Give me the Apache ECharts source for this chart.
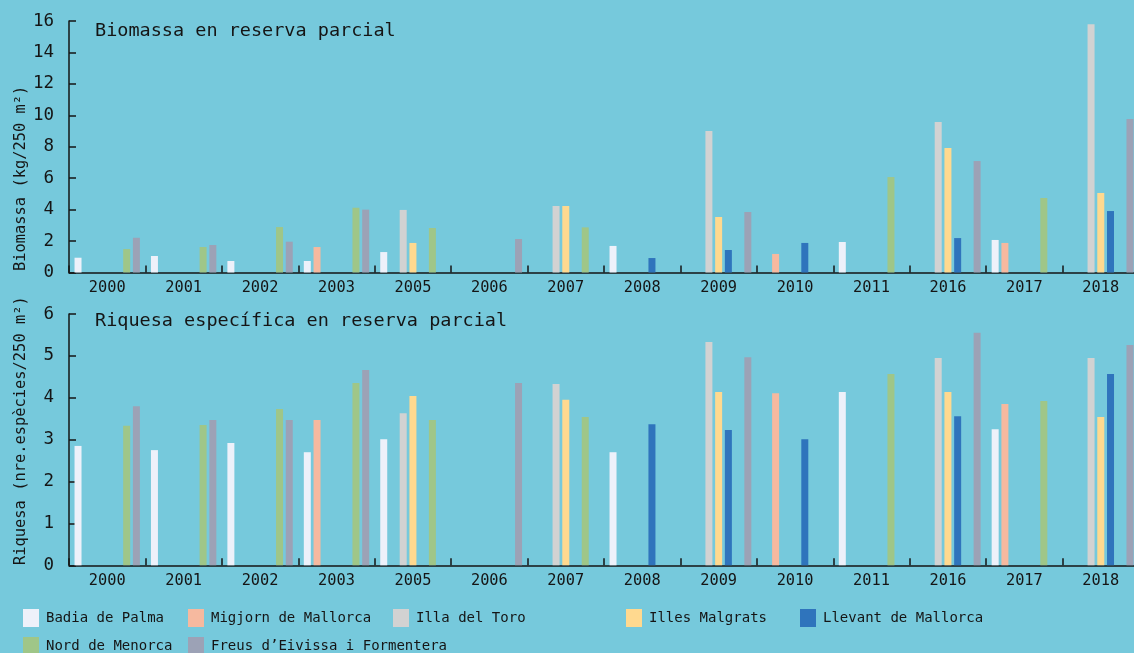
<!DOCTYPE html>
<html>
<head>
<meta charset="utf-8">
<script src="https://cdn.jsdelivr.net/npm/echarts@6/dist/echarts.min.js"></script>
<style>
html,body{margin:0;padding:0;background:#76c9dc;}
#chart{width:1134px;height:653px;}
</style>
</head>
<body>
<div id="chart"></div>
<script>
const categories = ['2000','2001','2002','2003','2005','2006','2007','2008','2009','2010','2011','2016','2017','2018'];
const seriesNames = ['Badia de Palma','Migjorn de Mallorca','Illa del Toro','Illes Malgrats','Llevant de Mallorca','Nord de Menorca','Freus d\u2019Eivissa i Formentera'];
const seriesColors = ['#edf1fa','#f6b99f','#d2d2d2','#ffd98f','#2f74bc','#9fc688','#9ca2b6'];

// Biomassa (kg/250 m2)
const bioBadia    = [0.94, 1.05, 0.73, 0.73, 1.30, null, null, 1.69, null, null, 1.94, null, 2.07, null];
const bioMigjorn  = [null, null, null, 1.62, null, null, null, null, null, 1.18, null, null, 1.88, null];
const bioIlla     = [null, null, null, null, 3.98, null, 4.23, null, 9.00, null, null, 9.57, null, 15.8];
const bioMalgrats = [null, null, null, null, 1.88, null, 4.23, null, 3.53, null, null, 7.92, null, 5.06];
const bioLlevant  = [null, null, null, null, null, null, null, 0.92, 1.43, 1.88, null, 2.19, null, 3.91];
const bioNord     = [1.49, 1.62, 2.89, 4.12, 2.83, null, 2.87, null, null, null, 6.07, null, 4.74, null];
const bioFreus    = [2.21, 1.75, 1.96, 4.00, null, 2.13, null, null, 3.85, null, null, 7.09, null, 9.76];

// Riquesa (nre. especies/250 m2)
const riqBadia    = [2.85, 2.75, 2.92, 2.70, 3.01, null, null, 2.70, null, null, 4.14, null, 3.25, null];
const riqMigjorn  = [null, null, null, 3.47, null, null, null, null, null, 4.11, null, null, 3.85, null];
const riqIlla     = [null, null, null, null, 3.63, null, 4.33, null, 5.33, null, null, 4.95, null, 4.95];
const riqMalgrats = [null, null, null, null, 4.04, null, 3.95, null, 4.14, null, null, 4.14, null, 3.54];
const riqLlevant  = [null, null, null, null, null, null, null, 3.37, 3.23, 3.01, null, 3.56, null, 4.57];
const riqNord     = [3.33, 3.35, 3.73, 4.35, 3.47, null, 3.54, null, null, null, 4.57, null, 3.92, null];
const riqFreus    = [3.80, 3.47, 3.47, 4.66, null, 4.35, null, null, 4.97, null, null, 5.55, null, 5.26];

const bioTicks = [0, 16, 2];
const riqTicks = [0, 6, 1];

const bioData = [bioBadia, bioMigjorn, bioIlla, bioMalgrats, bioLlevant, bioNord, bioFreus];
const riqData = [riqBadia, riqMigjorn, riqIlla, riqMalgrats, riqLlevant, riqNord, riqFreus];

const FONT = 'DejaVu Sans Mono';
const INK = '#151515';

function xAxisFor(gi){
  return {
    type:'category', gridIndex:gi, data:categories,
    axisLine:{show:true, lineStyle:{color:INK, width:1.5}},
    axisTick:{show:true, inside:true, length:7, alignWithLabel:false, lineStyle:{color:INK, width:1.5}},
    axisLabel:{color:INK, fontFamily:FONT, fontSize:15.3, margin:8, interval:0}
  };
}
function yAxisFor(gi, t){
  return {
    type:'value', gridIndex:gi, min:t[0], max:t[1], interval:t[2],
    axisLine:{show:true, lineStyle:{color:INK, width:1.5}},
    axisTick:{show:true, inside:true, length:7, lineStyle:{color:INK, width:1.5}},
    axisLabel:{color:INK, fontFamily:FONT, fontSize:17.5, margin:15},
    splitLine:{show:false}
  };
}

const series = [];
[bioData, riqData].forEach((set, gi) => {
  set.forEach((vals, i) => {
    series.push({
      type:'bar', name:seriesNames[i], xAxisIndex:gi, yAxisIndex:gi,
      data:vals, barWidth:7, barGap:'39%',
      itemStyle:{color:seriesColors[i]},
      emphasis:{disabled:true}
    });
  });
});

const legendPos = [[23,609],[188,609],[393,609],[626,609],[800,609],[23,637],[188,637]];
const legends = seriesNames.map((n, i) => ({
  data:[n], left:legendPos[i][0], top:legendPos[i][1], padding:0,
  itemWidth:16, itemHeight:18, icon:'rect', itemGap:0,
  textStyle:{color:INK, fontFamily:FONT, fontSize:14, padding:[0,0,0,2]}
}));

const chart = echarts.init(document.getElementById('chart'), null, {renderer:'canvas'});
chart.setOption({
  backgroundColor:'#76c9dc',
  animation:false,
  title:[
    {text:'Biomassa en reserva parcial', left:95, top:22, padding:0,
     textStyle:{color:INK, fontFamily:FONT, fontSize:18.5, fontWeight:'normal'}},
    {text:'Riquesa específica en reserva parcial', left:95, top:312, padding:0,
     textStyle:{color:INK, fontFamily:FONT, fontSize:18.5, fontWeight:'normal'}}
  ],
  legend:legends,
  grid:[
    {left:69, top:21, width:1070, height:251.5, outerBoundsMode:'none', containLabel:false},
    {left:69, top:314, width:1070, height:251.3, outerBoundsMode:'none', containLabel:false}
  ],
  xAxis:[xAxisFor(0), xAxisFor(1)],
  yAxis:[yAxisFor(0, bioTicks), yAxisFor(1, riqTicks)],
  series:series,
  graphic:[
    {type:'text', x:21, y:271, rotation:Math.PI/2,
     style:{text:'Biomassa (kg/250 m²)', fill:INK, font:'15.4px "DejaVu Sans Mono"', textAlign:'left', textVerticalAlign:'middle'}},
    {type:'text', x:21, y:565, rotation:Math.PI/2,
     style:{text:'Riquesa (nre.espècies/250 m²)', fill:INK, font:'15.4px "DejaVu Sans Mono"', textAlign:'left', textVerticalAlign:'middle'}}
  ]
});
</script>
</body>
</html>
